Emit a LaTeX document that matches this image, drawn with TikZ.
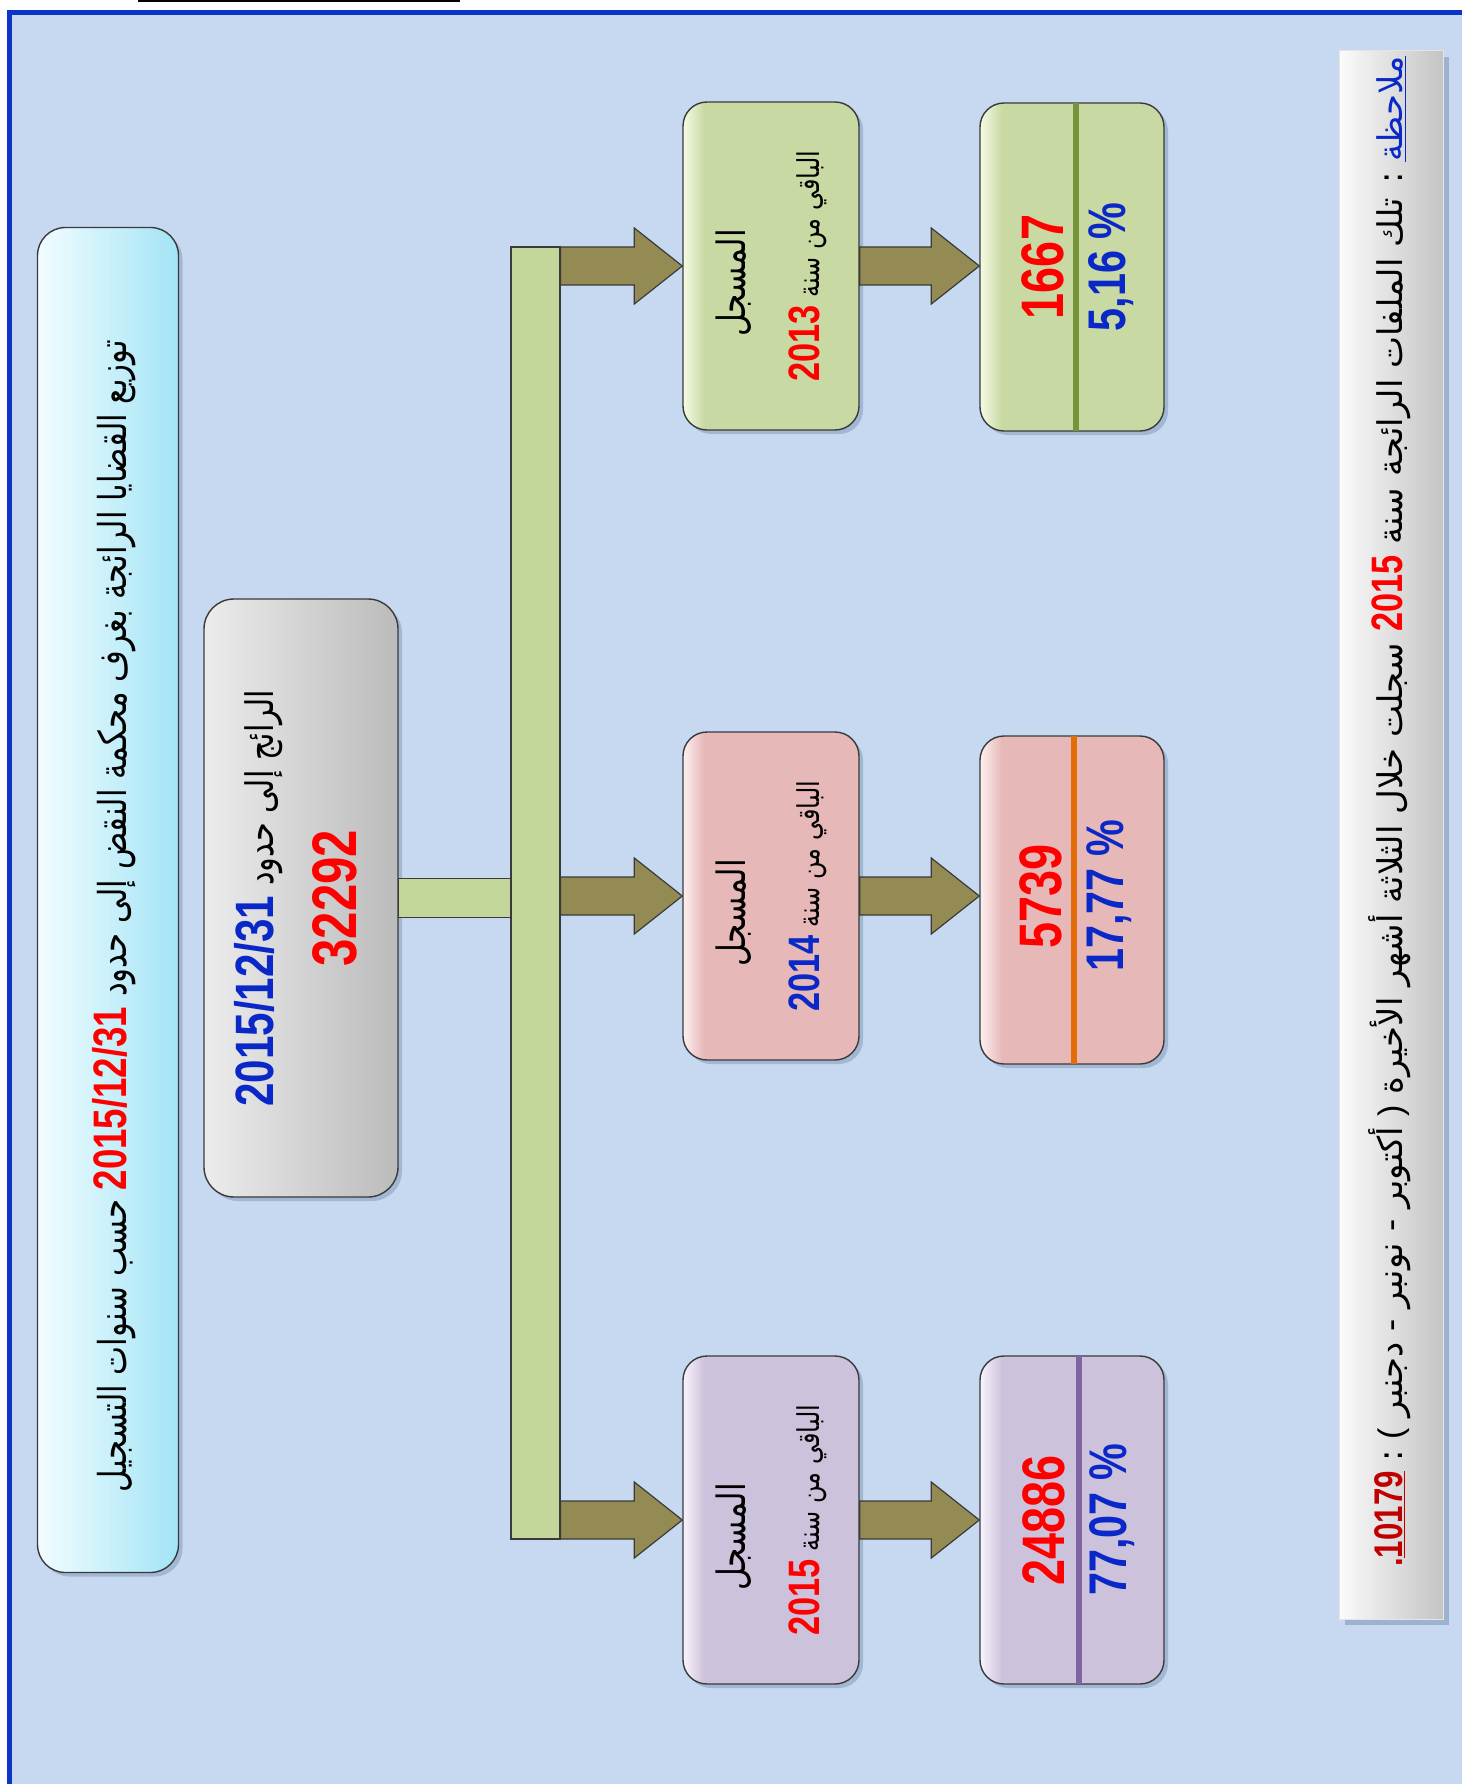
\documentclass[tikz,border=0pt]{standalone}
\usepackage{fontspec}
\setmainfont{Liberation Sans}
\newfontfamily\ar[Script=Arabic]{DejaVu Sans}
\newfontfamily\arc[Script=Arabic, FakeStretch=0.8]{DejaVu Sans}
\newfontfamily\numfont[FakeStretch=0.78]{Liberation Sans}
\TeXXeTstate=1
\usetikzlibrary{calc,shadows}
\definecolor{bgblue}{HTML}{C6D9F0}
\definecolor{frameblue}{HTML}{0A35C8}
\definecolor{numblue}{HTML}{0A28C8}
\definecolor{darkred}{HTML}{C00000}
\definecolor{gLight}{HTML}{F6FBE6}
\definecolor{gBase}{HTML}{C9D9A3}
\definecolor{rLight}{HTML}{FDF0F0}
\definecolor{rBase}{HTML}{E6B9B8}
\definecolor{vLight}{HTML}{F8F4FC}
\definecolor{vBase}{HTML}{CDC2DB}
\definecolor{gLine}{HTML}{77933C}
\definecolor{oLine}{HTML}{E36C09}
\definecolor{vLine}{HTML}{8064A2}
\definecolor{barfill}{HTML}{C4D79B}
\definecolor{arrowfill}{HTML}{948A54}
\definecolor{edge}{HTML}{3A3A3A}
\definecolor{shadowc}{HTML}{93A9C6}
\definecolor{cyanL}{HTML}{F2FDFF}
\definecolor{cyanR}{HTML}{A3E4F6}
\definecolor{grayL}{HTML}{ECECEC}
\definecolor{grayR}{HTML}{BBBBBB}
\definecolor{noteL}{HTML}{FBFBFB}
\definecolor{noteR}{HTML}{C4C4C4}
\pgfdeclarehorizontalshading{bevG}{100bp}{color(0bp)=(gLight); color(25bp)=(gLight); color(31bp)=(gBase); color(100bp)=(gBase)}
\pgfdeclarehorizontalshading{bevR}{100bp}{color(0bp)=(rLight); color(25bp)=(rLight); color(31bp)=(rBase); color(100bp)=(rBase)}
\pgfdeclarehorizontalshading{bevV}{100bp}{color(0bp)=(vLight); color(25bp)=(vLight); color(31bp)=(vBase); color(100bp)=(vBase)}
% number in bold narrow sans; colour given as a hex font feature (no colour specials inside RTL text)
\newcommand\nmb[3]{\mbox{\numfont\bfseries\fontsize{#1}{#1}\selectfont\addfontfeature{Color=#2}#3}}
\newcommand\blkarrow[2]{\draw[arrsty] ($(#1)+(0,-19)$) -- ($(#2)+(-48,-19)$) -- ($(#2)+(-48,-38)$) -- (#2) -- ($(#2)+(-48,38)$) -- ($(#2)+(-48,19)$) -- ($(#1)+(0,19)$) -- cycle;}
\tikzset{
  box/.style={draw=edge, line width=1.4pt, rounded corners=24pt, inner sep=0pt,
    drop shadow={shadow xshift=4pt, shadow yshift=-4pt, fill=shadowc, opacity=0.7}},
  yearbox/.style={box, minimum width=176pt, minimum height=328pt},
  valbox/.style={box, minimum width=184pt, minimum height=328pt},
  artxt/.style={rotate=90, inner sep=0pt, font=\arc\fontsize{34}{40}\selectfont},
  notetxt/.style={rotate=90, inner sep=0pt, font=\ar\fontsize{34}{40}\selectfont},
  numtxt/.style={rotate=90, inner sep=0pt},
  barsty/.style={draw=edge, line width=1.2pt, fill=barfill},
  arrsty/.style={draw=edge, line width=1.2pt, fill=arrowfill},
  divider/.style={line width=6pt}
}
\begin{document}
\begin{tikzpicture}[x=1pt,y=-1pt]
\useasboundingbox (0,0) rectangle (1462,1784);
\fill[white] (0,0) rectangle (1462,1784);
\fill[bgblue] (9.5,12.5) rectangle (1462,1784);
\draw[frameblue, line width=5pt] (9.5,1784) -- (9.5,12.5) -- (1462,12.5);
\draw[black, line width=2.4pt] (138,1.2) -- (460,1.2);

% title
\node[box, rounded corners=28pt, minimum width=141pt, minimum height=1345pt, left color=cyanL, right color=cyanR] (title) at (108,900) {};
\node[artxt, font=\arc\fontsize{38.5}{42}\selectfont] (titletxt) at (114,916) {\beginR توزيع القضايا الرائجة بغرف محكمة النقض إلى حدود \nmb{47}{FF0000}{2015/12/31} حسب سنوات التسجيل\endR};

% total box
\node[box, rounded corners=30pt, minimum width=194pt, minimum height=598pt, left color=grayL, right color=grayR] (tot) at (301,898) {};
\node[artxt, font=\arc\fontsize{38}{40}\selectfont] (totA) at ($(tot)+(-42,0)$) {\beginR الرائج إلى حدود \nmb{54}{0A28C8}{2015/12/31}\endR};
\node[numtxt] (totB) at ($(tot)+(34,0)$) {\nmb{63}{FF0000}{32292}};

% bar
\node[barsty, minimum width=49pt, minimum height=1292pt, inner sep=0pt] (bar) at (535.5,893) {};
\draw[barsty] ($(tot.east)+(0,-19.5)$) rectangle ($(bar.west |- tot.east)+(0,19.5)$);
\node[barsty, minimum width=49pt, minimum height=1292pt, inner sep=0pt] (bar2) at (bar) {};

% year boxes
\node[yearbox, shading=bevG] (b13) at (771,266) {};
\node[yearbox, shading=bevR] (b14) at (771,896) {};
\node[yearbox, shading=bevV] (b15) at (771,1520) {};
\foreach \b/\c/\y in {b13/FF0000/2013, b14/0A28C8/2014, b15/FF0000/2015}{
  \node[artxt, font=\arc\fontsize{39}{42}\selectfont] (\b a) at ($(\b)+(-37,17)$) {\beginR المسجل\endR};
  \node[artxt, font=\arc\fontsize{30}{36}\selectfont] (\b b) at ($(\b)+(37,0)$) {\beginR الباقي من سنة \nmb{44}{\c}{\y}\endR};
}

% value boxes
\node[valbox, shading=bevG] (p13) at (1072,267) {};
\node[valbox, shading=bevR] (p14) at (1072,900) {};
\node[valbox, shading=bevV] (p15) at (1072,1520) {};
\draw[divider, gLine] ($(p13.north)+(4,1)$) -- ($(p13.south)+(4,-1)$);
\draw[divider, oLine] ($(p14.north)+(2,1)$) -- ($(p14.south)+(2,-1)$);
\draw[divider, vLine] ($(p15.north)+(7,1)$) -- ($(p15.south)+(7,-1)$);
\node[numtxt] (p13n) at ($(p13)+(-29,0)$) {\nmb{60}{FF0000}{1667}};
\node[numtxt] (p13p) at ($(p13)+(39,0)$) {\nmb{53}{0A28C8}{5,16 \%}};
\node[numtxt] (p14n) at ($(p14)+(-31,-4)$) {\nmb{60}{FF0000}{5739}};
\node[numtxt] (p14p) at ($(p14)+(37,-4)$) {\nmb{53}{0A28C8}{17,77 \%}};
\node[numtxt] (p15n) at ($(p15)+(-28,0)$) {\nmb{60}{FF0000}{24886}};
\node[numtxt] (p15p) at ($(p15)+(40,0)$) {\nmb{53}{0A28C8}{77,07 \%}};

% arrows
\blkarrow{bar.east |- b13.west}{b13.west}
\blkarrow{bar.east |- b14.west}{b14.west}
\blkarrow{bar.east |- b15.west}{b15.west}
\blkarrow{b13.east}{p13.west |- b13.east}
\blkarrow{b14.east}{p14.west |- b14.east}
\blkarrow{b15.east}{p15.west |- b15.east}

% note
\node[draw=white!80!gray, line width=1pt, inner sep=0pt, minimum width=104pt, minimum height=1568pt, left color=noteL, right color=noteR,
  drop shadow={shadow xshift=6pt, shadow yshift=-6pt, fill=shadowc, opacity=0.8}] (note) at (1391,835) {};
\node[notetxt] (noteB) at (1390,817) {\beginR : تلك الملفات الرائجة سنة \nmb{44}{FF0000}{2015} سجلت خلال الثلاثة أشهر الأخيرة \mbox{\rmfamily)} أكتوبر - نونبر - دجنبر \mbox{\rmfamily(} :\endR};
\node[notetxt, anchor=base west] (noteA) at ($(noteB.base east)+(0,-10)$) {\color{numblue}\underline{ملاحظة}};
\node[notetxt, anchor=base east] (noteC) at ($(noteB.base west)+(0,9)$) {\nmb{40}{C00000}{.}\color{darkred}\underline{\nmb{40}{C00000}{10179}}};
\end{tikzpicture}
\end{document}
